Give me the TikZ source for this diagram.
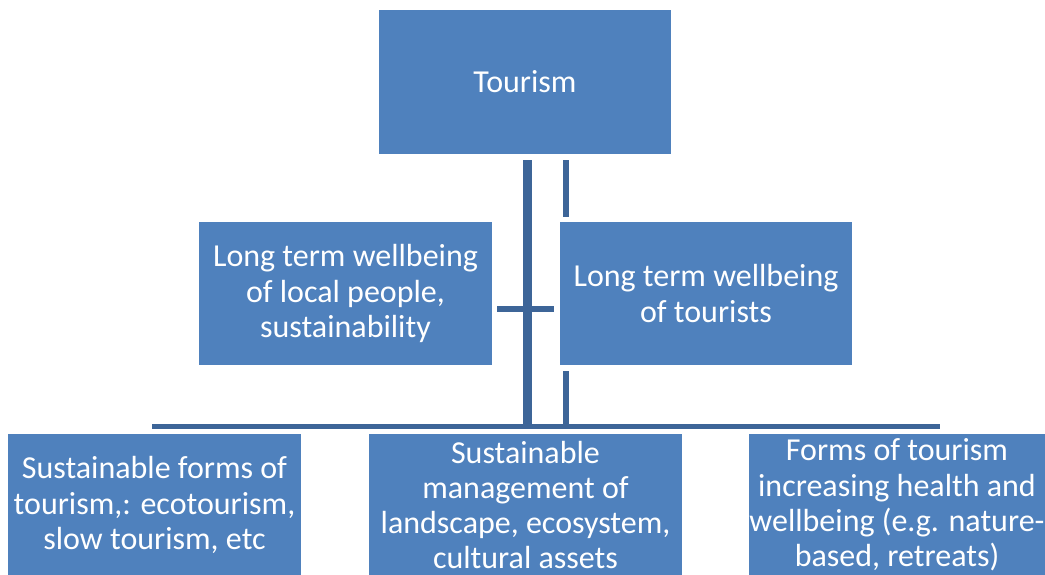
\documentclass[tikz,border=0pt]{standalone}
\usepackage{fontspec}
\setmainfont{Carlito}
\usetikzlibrary{calc}
\definecolor{boxblue}{HTML}{4F81BD}
\definecolor{linkblue}{HTML}{3D6598}
\begin{document}
\begin{tikzpicture}[x=1pt,y=-1pt,
  box/.style={fill=boxblue, text=white, align=center, inner sep=0pt,
    font=\fontsize{32}{35.3}\selectfont},
  link/.style={draw=linkblue, line cap=butt}]
\useasboundingbox (0,0) rectangle (1045,574);

% boxes
\node[box, minimum width=292pt, minimum height=144pt] (tour) at (525,82) {Tourism};
\node[box, minimum width=293pt, minimum height=143pt] (local) at (345.5,293.5)
  {Long term wellbeing\\of local people,\\sustainability};
\node[box, minimum width=292pt, minimum height=143pt] (tourists) at (706,293.5)
  {Long term wellbeing\\of tourists};
\node[box, minimum width=293pt, minimum height=142pt] (forms) at (154.5,505)
  {Sustainable forms of\\tourism,: ecotourism,\\slow tourism, etc};
\node[box, minimum width=313pt, minimum height=142pt] (manage) at (525.5,505)
  {Sustainable\\management of\\landscape, ecosystem,\\cultural assets};
\node[box, minimum width=292pt, minimum height=142pt] (health) at (897,505)
  {Forms of tourism\\increasing health and\\wellbeing (e.g. nature-\\based, retreats)};

% bus line above the bottom row
\coordinate (busL) at (152,426.5);
\coordinate (busR) at (940,426.5);
\draw[link, line width=5pt] (busL) -- (busR);

% main trunk from Tourism
\coordinate (trunkTop) at ($(tour.south)+(2.5,6)$);
\coordinate (trunkBot) at (trunkTop |- busL);
\draw[link, line width=9pt] (trunkTop) -- (trunkBot);

% branch passing the tourists box
\coordinate (branchTop) at ($(tour.south)+(41,6)$);
\draw[link, line width=6pt] (branchTop) -- ($(branchTop |- tourists.north)+(0,-5)$);
\draw[link, line width=6pt] ($(branchTop |- tourists.south)+(0,6)$) -- (branchTop |- busL);

% crossbar between the middle boxes
\draw[link, line width=6pt] ($(local.east)+(5,15.5)$) -- ($(tourists.west)+(-6,15.5)$);
\end{tikzpicture}
\end{document}
